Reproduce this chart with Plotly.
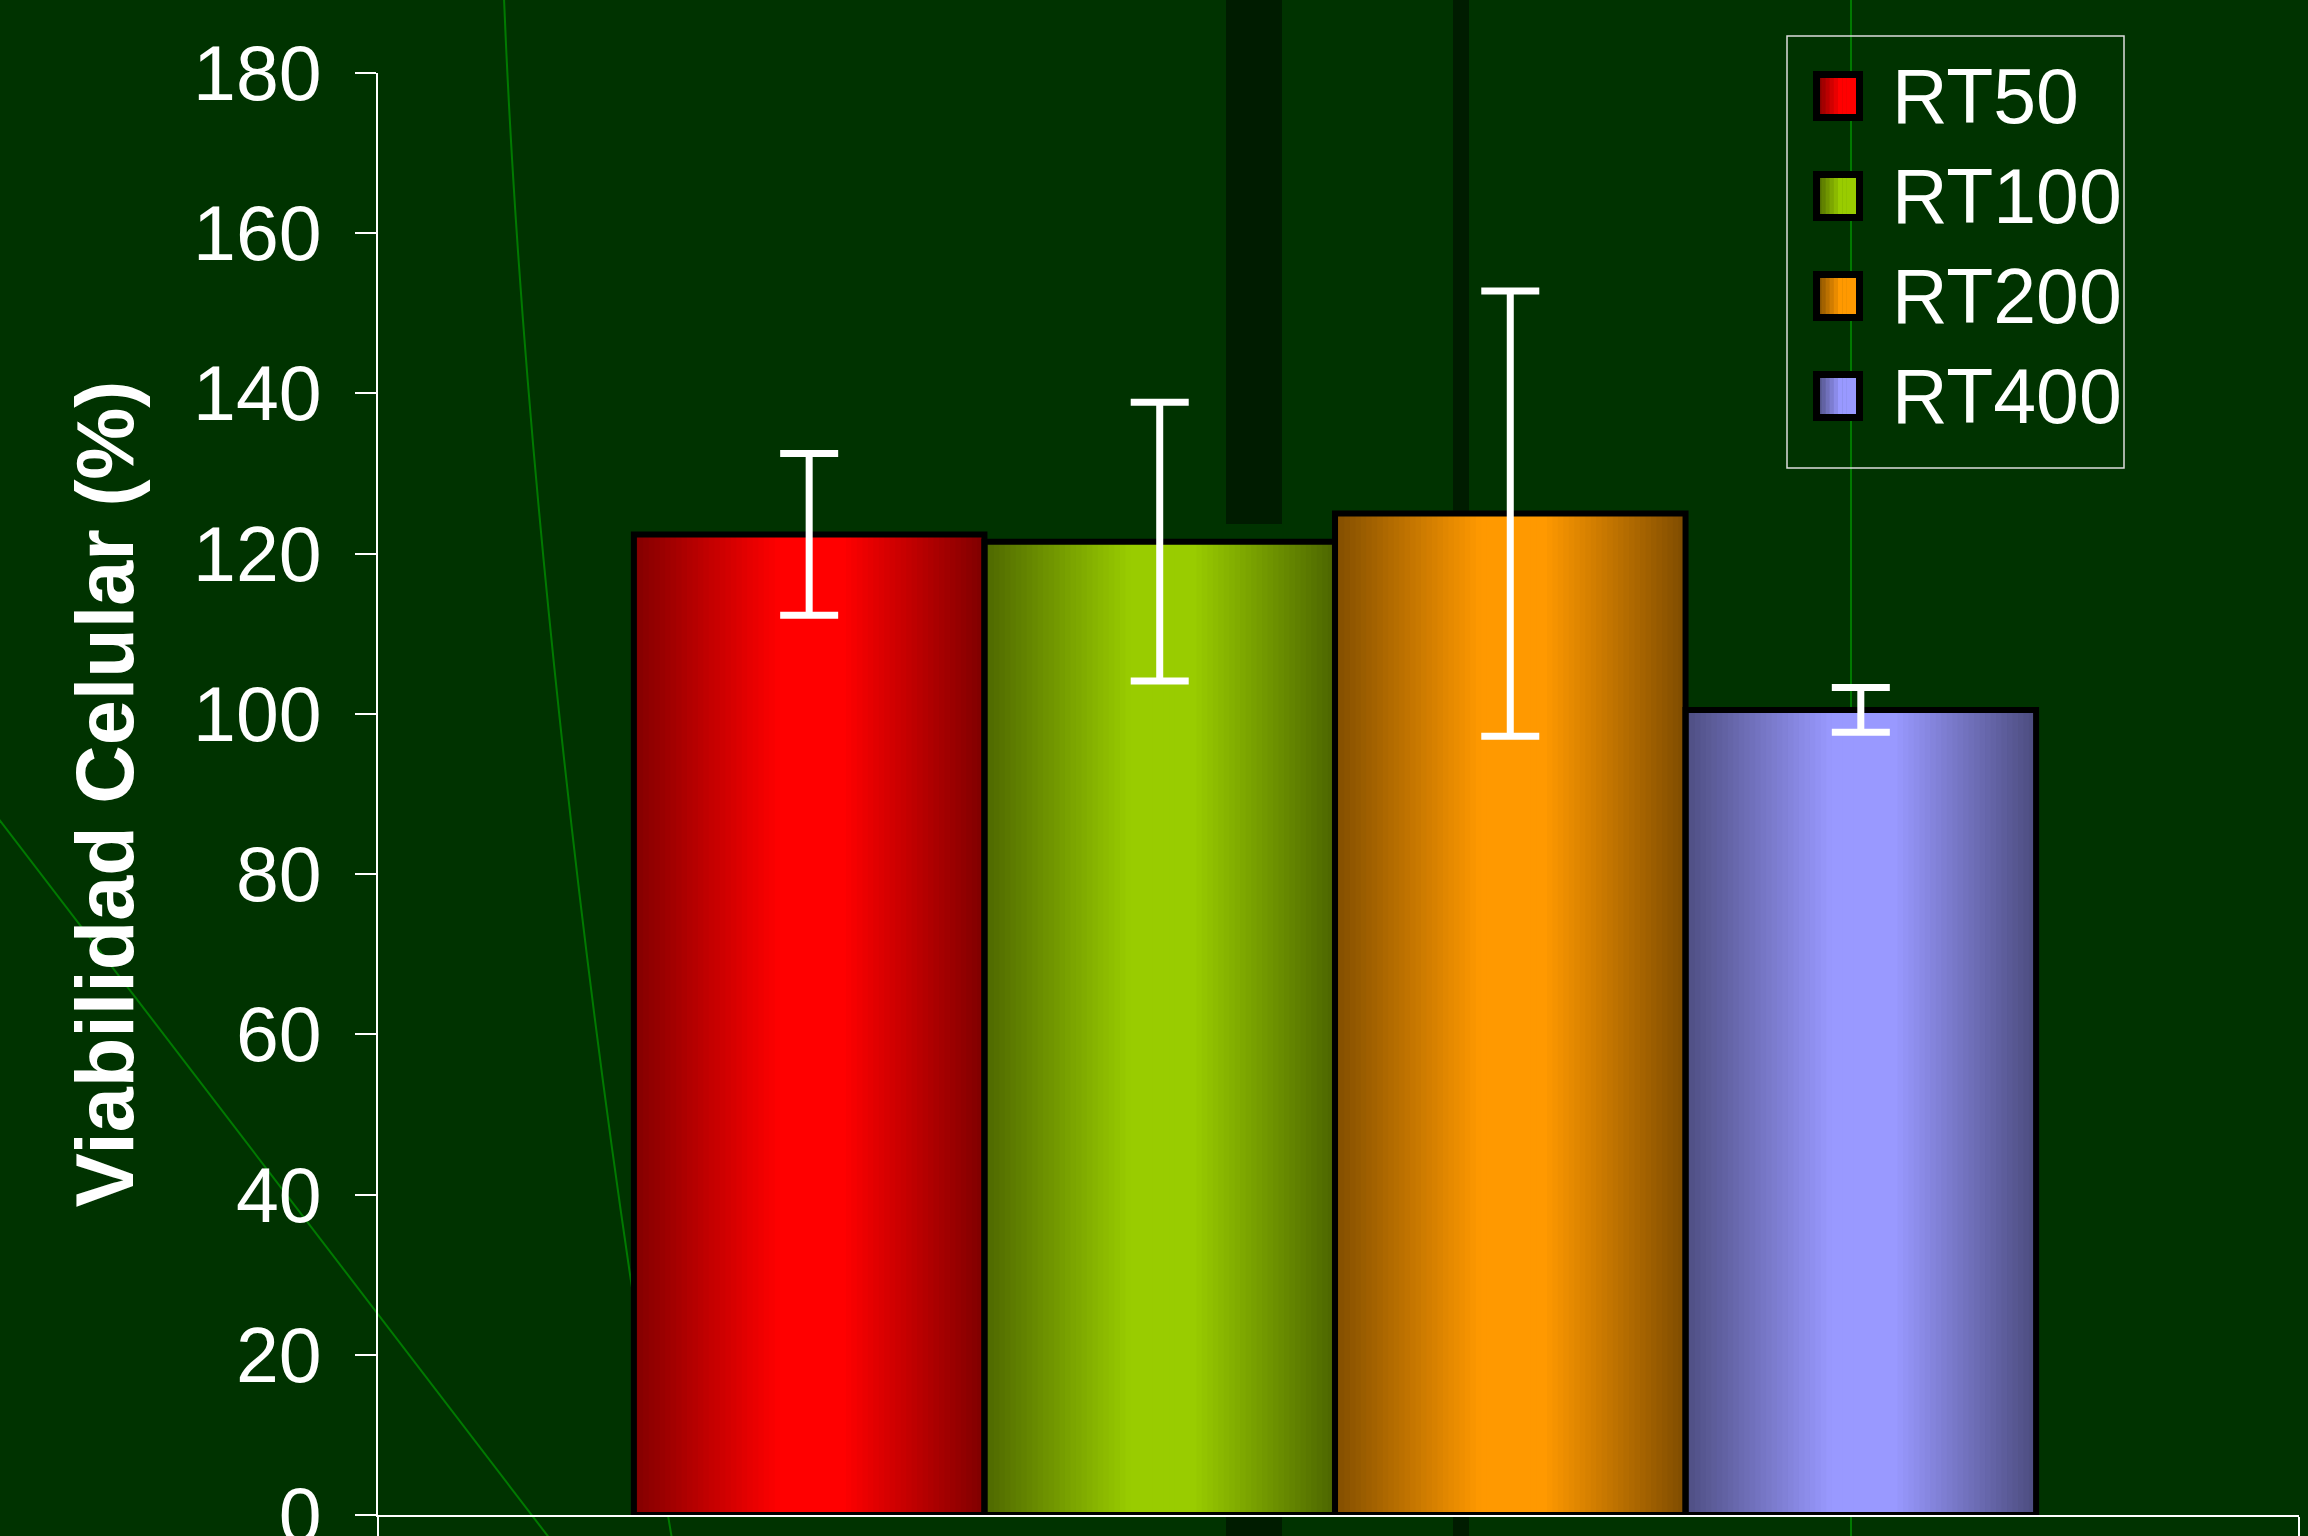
import plotly.graph_objects as go

# ---------------- data ----------------
series = ["RT50", "RT100", "RT200", "RT400"]
values = [122.4, 121.5, 125.0, 100.5]
errors = [10.1, 17.4, 27.8, 2.8]
light_colors = ["#FF0000", "#99CC00", "#FF9900", "#9999FF"]
dark_colors = ["#800000", "#4D6600", "#804D00", "#4D4D80"]
y_ticks = [0, 20, 40, 60, 80, 100, 120, 140, 160, 180]
y_title = "Viabilidad Celular (%)"

# ---------------- geometry ----------------
W, H = 2308, 1536
L, R, T, B = 378, 9, 73, 21
PW, PH = W - L - R, H - T - B
FONT = "Liberation Sans, Arial, sans-serif"


def px(xp):
    return (xp - L) / PW


def py(yp):
    return (H - B - yp) / PH


def hex2rgb(h):
    h = h.lstrip("#")
    return tuple(int(h[i:i + 2], 16) for i in (0, 2, 4))


def mix(c0, c1, f):
    a, b = hex2rgb(c0), hex2rgb(c1)
    return "rgb(%d,%d,%d)" % tuple(round(a[j] + (b[j] - a[j]) * f) for j in range(3))


def profile(t):
    # horizontal shading: dark edges, light centre
    if t < 0.42:
        return t / 0.42
    if t <= 0.6:
        return 1.0
    return max(0.0, (1 - t) / 0.4)


N = 64
fig = go.Figure()

# gradient fill, drawn as thin overlapping strips of each bar
for i, s in enumerate(series):
    ts = [(k + 0.5) / N for k in range(N)]
    fig.add_trace(go.Bar(
        x=[i - 0.5 + t for t in ts],
        y=[values[i]] * N,
        width=1.6 / N,
        marker=dict(color=[mix(dark_colors[i], light_colors[i], profile(t)) for t in ts],
                    line=dict(width=0)),
        showlegend=False, hoverinfo="skip",
    ))

# outlines + error bars
for i, s in enumerate(series):
    fig.add_trace(go.Bar(
        x=[i], y=[values[i]], width=1.0, name=s,
        marker=dict(color="rgba(0,0,0,0)", line=dict(color="black", width=6)),
        error_y=dict(type="data", array=[errors[i]], color="white", thickness=7, width=29),
        showlegend=False,
    ))

shapes = []
# background decorations
dark = "#001c00"
thin = "#007a00"
shapes.append(dict(type="rect", xref="paper", yref="paper", x0=px(1226), x1=px(1282), y0=py(524), y1=py(-5),
                   fillcolor=dark, line=dict(width=0), layer="below"))
shapes.append(dict(type="rect", xref="paper", yref="paper", x0=px(1226), x1=px(1282), y0=py(1545), y1=py(1515),
                   fillcolor=dark, line=dict(width=0), layer="below"))
shapes.append(dict(type="rect", xref="paper", yref="paper", x0=px(1453), x1=px(1469), y0=py(1545), y1=py(-5),
                   fillcolor=dark, line=dict(width=0), layer="below"))
shapes.append(dict(type="line", xref="paper", yref="paper", x0=px(1851), x1=px(1851), y0=py(1545), y1=py(-5),
                   line=dict(color=thin, width=2), layer="below"))
shapes.append(dict(type="line", xref="paper", yref="paper", x0=px(-5), y0=py(814), x1=px(560), y1=py(1552),
                   line=dict(color=thin, width=2), layer="below"))
path = "M %f,%f C %f,%f %f,%f %f,%f" % (px(504), py(-2), px(520), py(400), px(580), py(1000), px(673), py(1545))
shapes.append(dict(type="path", xref="paper", yref="paper", path=path,
                   line=dict(color=thin, width=2), layer="below"))

# legend (manual, large swatches)
shapes.append(dict(type="rect", xref="paper", yref="paper", x0=px(1787), x1=px(2124), y0=py(468), y1=py(36),
                   line=dict(color="#dddddd", width=1.5), fillcolor="rgba(0,0,0,0)", layer="above"))
annotations = []
for i, s in enumerate(series):
    cy = 96 + i * 100
    ns = 10
    x_a, x_b = 1817, 1859
    for k in range(ns):
        t = (k + 0.5) / ns
        shapes.append(dict(type="rect", xref="paper", yref="paper",
                           x0=px(x_a + (x_b - x_a) * k / ns), x1=px(x_a + (x_b - x_a) * (k + 1) / ns + 0.5),
                           y0=py(cy + 21), y1=py(cy - 21),
                           fillcolor=mix(dark_colors[i], light_colors[i], min(1.0, t / 0.55)),
                           line=dict(width=0), layer="above"))
    shapes.append(dict(type="rect", xref="paper", yref="paper", x0=px(1816.5), x1=px(1859.5),
                       y0=py(cy + 21.5), y1=py(cy - 21.5),
                       line=dict(color="black", width=7), fillcolor="rgba(0,0,0,0)", layer="above"))
    annotations.append(dict(xref="paper", yref="paper", x=px(1890), y=py(cy), text=s, showarrow=False,
                            xanchor="left", yanchor="middle", font=dict(size=77, color="white", family=FONT)))

fig.update_layout(
    width=W, height=H,
    margin=dict(l=L, r=R, t=T, b=B, pad=0, autoexpand=False),
    paper_bgcolor="#003300", plot_bgcolor="rgba(0,0,0,0)",
    barmode="overlay", showlegend=False,
    font=dict(family=FONT, color="white"),
    shapes=shapes, annotations=annotations,
    xaxis=dict(range=[-1.23, 4.25], showline=True, linecolor="white", linewidth=2, automargin=False,
               ticks="outside", tickvals=[-1.23, 4.25], ticklen=30, tickwidth=2, tickcolor="white",
               showticklabels=False, showgrid=False, zeroline=False, layer="above traces", fixedrange=True),
    yaxis=dict(range=[0, 180], tickvals=y_ticks, ticks="outside", ticklen=21, tickwidth=2, tickcolor="white",
               showline=True, linecolor="white", linewidth=2, showgrid=False, zeroline=False,
               automargin=False, ticklabeloverflow="allow",
               tickfont=dict(size=77, color="white", family=FONT), ticklabelstandoff=18,
               title=dict(text=y_title, standoff=33,
                          font=dict(size=81, color="white", family=FONT, weight="bold"))),
)

fig.write_html("out.html")
